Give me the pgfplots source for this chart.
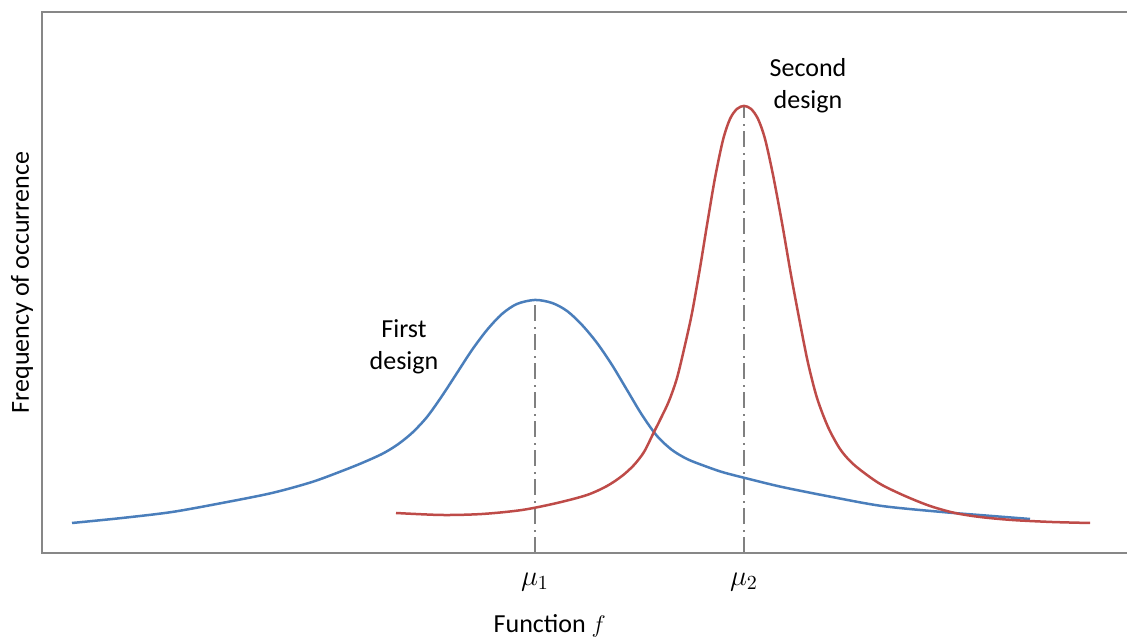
\documentclass[border=0pt]{standalone}
\usepackage{fontspec}
\setmainfont{Carlito}
\usepackage{pgfplots}
\pgfplotsset{compat=1.18}

\definecolor{firstblue}{HTML}{4A7EBB}
\definecolor{secondred}{HTML}{BE4B48}
\definecolor{framegray}{HTML}{878787}
\definecolor{meangray}{HTML}{808080}

% frequency distributions of the function f for the two designs
\pgfplotstableread{
x    y
30   30
80   35
130  41
180  50
230  60
270  71
300  82
320  90
340  99
355  108
370  120
385  136
400  157
415  180
430  203
445  223
460  239
475  249
493  253
510  250
525  242
540  228
555  210
570  188
585  163
600  138
615  117
630  103
645  94
660  88
680  81
703  75
740  66
790  56
840  47
900  41
950  37
988  34
}\firstdesign

\pgfplotstableread{
x    y
354  40
400  38
440  39
480  43
515  50
545  58
565  67
580  77
592  88
602  101
611  119
619  135
627  152
635  175
643  208
650  240
658  285
665  328
673  375
681  413
688  434
695  444
702  447
709  444
716  434
723  414
731  378
740  330
749  278
758  230
766  190
775  155
786  126
798  104
810  90
825  78
840  68
863  57
888  47
913  40
938  36
970  33
1010 31
1048 30
}\seconddesign

\begin{document}
\begin{tikzpicture}[x=1pt,y=1pt]
\useasboundingbox (-21pt,-41.5pt) rectangle (542.5pt,276.5pt);
\begin{axis}[
  at={(0,0)}, anchor=south west,
  scale only axis, width=542.5pt, height=270.5pt,
  xmin=0, xmax=1085, ymin=0, ymax=541,
  axis line style={draw=none},
  xtick={493,702}, xticklabels={$\mu_1$,$\mu_2$},
  ytick=\empty,
  major tick length=0pt,
  xticklabel style={anchor=base, yshift=-16pt},
  font=\fontsize{13}{16}\selectfont,
  tick label style={font=\fontsize{14}{16}\selectfont},
  xlabel={Function $f$},
  every axis x label/.style={at={(axis description cs:0.468,0)}, anchor=base, yshift=-39.5pt},
  ylabel={Frequency of occurrence},
  every axis y label/.style={at={(axis description cs:-0.0184,0.5)}, anchor=center, rotate=90},
  clip=false,
]
  % mean lines
  \addplot[meangray, line width=0.75pt, dash pattern=on 8pt off 2.5pt on 1pt off 3pt]
    coordinates {(493,0) (493,253)};
  \addplot[meangray, line width=0.75pt, dash pattern=on 8pt off 2.5pt on 1pt off 3pt]
    coordinates {(702,0) (702,447)};

  \addplot[firstblue, line width=1.25pt, smooth, tension=0.5] table[x=x, y=y] {\firstdesign};
  \addplot[secondred, line width=1.25pt, smooth, tension=0.5] table[x=x, y=y] {\seconddesign};

  \node[align=center] at (axis cs:362,206) {First\\design};
  \node[align=center] at (axis cs:766,467) {Second\\design};

  % frame: left, top and bottom
  \draw[framegray, line width=1pt] (rel axis cs:1,1) -- (rel axis cs:0,1) -- (rel axis cs:0,0) -- (rel axis cs:1,0);
\end{axis}
\end{tikzpicture}
\end{document}
